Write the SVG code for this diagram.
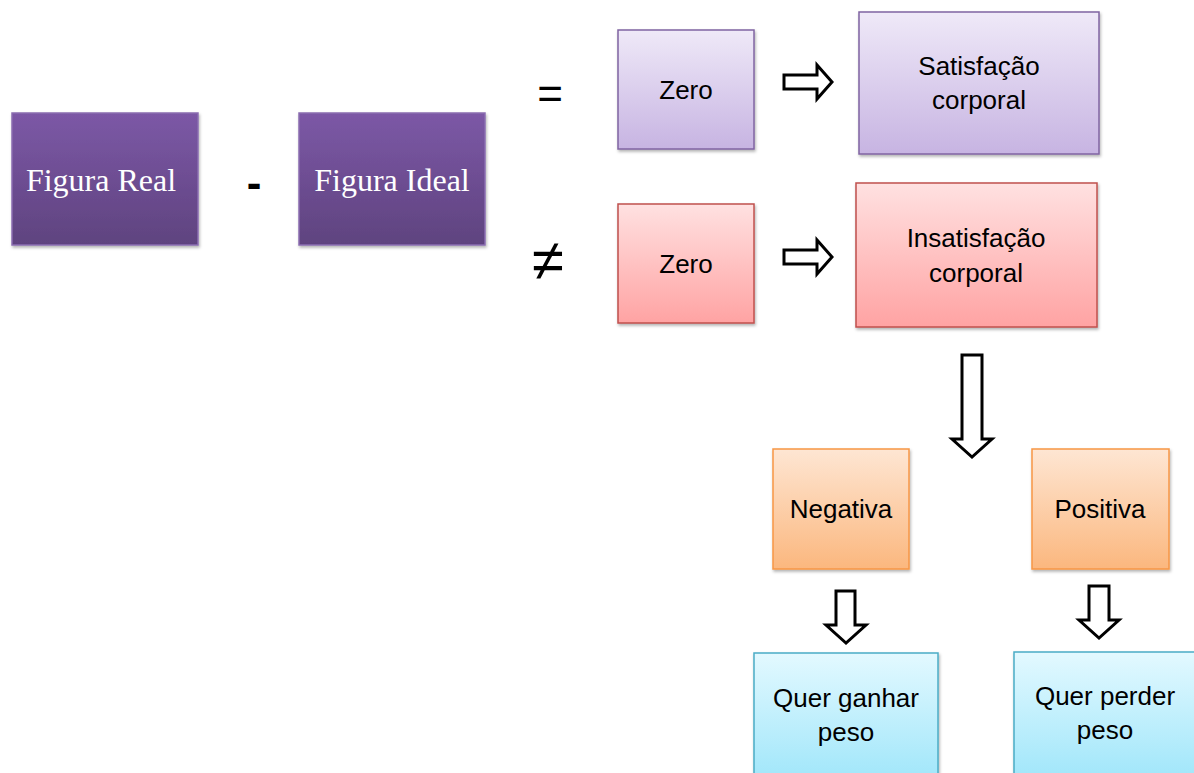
<svg xmlns="http://www.w3.org/2000/svg" width="1194" height="773" viewBox="0 0 1194 773">
<defs>
<linearGradient id="gPurpleDark" x1="0" y1="0" x2="0" y2="1"><stop offset="0" stop-color="#7c58a6"/><stop offset="1" stop-color="#5f437f"/></linearGradient>
<linearGradient id="gPurpleLight" x1="0" y1="0" x2="0" y2="1"><stop offset="0" stop-color="#efe9f8"/><stop offset="1" stop-color="#c7b4e2"/></linearGradient>
<linearGradient id="gRed" x1="0" y1="0" x2="0" y2="1"><stop offset="0" stop-color="#ffe1e1"/><stop offset="1" stop-color="#ffa3a3"/></linearGradient>
<linearGradient id="gOrange" x1="0" y1="0" x2="0" y2="1"><stop offset="0" stop-color="#fee6d3"/><stop offset="1" stop-color="#fbb77e"/></linearGradient>
<linearGradient id="gCyan" x1="0" y1="0" x2="0" y2="1"><stop offset="0" stop-color="#e3f9ff"/><stop offset="1" stop-color="#9fe6fa"/></linearGradient>
<filter id="sh" x="-10%" y="-10%" width="120%" height="120%"><feDropShadow dx="1" dy="2" stdDeviation="1.5" flood-color="#000" flood-opacity="0.3"/></filter>
</defs>
<style>
.box{filter:url(#sh);stroke-width:1.5}
.dark{fill:url(#gPurpleDark);stroke:#8a6cb0}
.lp{fill:url(#gPurpleLight);stroke:#8064a2}
.red{fill:url(#gRed);stroke:#c0504d}
.or{fill:url(#gOrange);stroke:#f79646}
.cy{fill:url(#gCyan);stroke:#4bacc6}
.t{font-family:"Liberation Sans",Arial,sans-serif;font-size:26px;fill:#000;text-anchor:middle}
.ts{font-family:"Liberation Serif","Times New Roman",serif;font-size:32px;fill:#fff;text-anchor:middle}
.sym{font-family:"Liberation Sans","DejaVu Sans",sans-serif;font-size:44px;fill:#000;text-anchor:middle}
.arr{fill:#fff;stroke:#000;stroke-width:3;stroke-linejoin:miter}
</style>
<g id="figura-real"><rect class="box dark" x="12" y="113" width="186" height="132"/><text class="ts" x="101" y="191">Figura Real</text></g>
<text class="sym" x="254" y="198" font-weight="bold">-</text>
<g id="figura-ideal"><rect class="box dark" x="299" y="113" width="186" height="132"/><text class="ts" x="392" y="191">Figura Ideal</text></g>
<text class="sym" x="550" y="109">=</text>
<text class="sym" x="548" y="280" style="font-size:58px">≠</text>
<g id="zero-eq"><rect class="box lp" x="618" y="30" width="136" height="119"/><text class="t" x="686" y="99">Zero</text></g>
<g id="zero-neq"><rect class="box red" x="618" y="204" width="136" height="119"/><text class="t" x="686" y="273">Zero</text></g>
<g id="satisfacao"><rect class="box lp" x="859" y="12" width="240" height="142"/><text class="t" x="979" y="75">Satisfação</text><text class="t" x="979" y="109">corporal</text></g>
<g id="insatisfacao"><rect class="box red" x="856" y="183" width="241" height="144"/><text class="t" x="976" y="247">Insatisfação</text><text class="t" x="976" y="282">corporal</text></g>
<g id="negativa"><rect class="box or" x="773" y="449" width="136" height="120"/><text class="t" x="841" y="518">Negativa</text></g>
<g id="positiva"><rect class="box or" x="1032" y="449" width="137" height="120"/><text class="t" x="1100" y="518">Positiva</text></g>
<g id="quer-ganhar"><rect class="box cy" x="754" y="653" width="184" height="130"/><text class="t" x="846" y="707">Quer ganhar</text><text class="t" x="846" y="741">peso</text></g>
<g id="quer-perder"><rect class="box cy" x="1014" y="652" width="190" height="130"/><text class="t" x="1105" y="705">Quer perder</text><text class="t" x="1105" y="739">peso</text></g>
<g id="connectors">
<path class="arr" d="M784,75 H817 V65 L832,82 L817,99 V89 H784 Z"/>
<path class="arr" d="M784,250 H817 V240 L832,257 L817,274 V264 H784 Z"/>
<path class="arr" d="M962,355 H982 V439 H992 L972,457 L952,439 H962 Z"/>
<path class="arr" d="M836,591 H855 V625 H866 L846,643 L826,625 H836 Z"/>
<path class="arr" d="M1089,586 H1109 V620 H1119 L1099,638 L1079,620 H1089 Z"/>
</g>
</svg>
